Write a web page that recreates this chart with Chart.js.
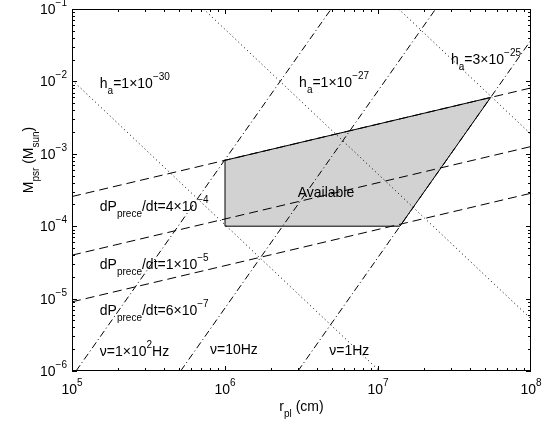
<!DOCTYPE html>
<html>
<head>
<meta charset="utf-8">
<script src="https://cdn.jsdelivr.net/npm/chart.js@4/dist/chart.umd.min.js"></script>
<style>
  html, body { margin: 0; padding: 0; background: #fff; }
  #wrap { width: 554px; height: 423px; }
</style>
</head>
<body>
<div id="wrap"><canvas id="chart" width="554" height="423"></canvas></div>
<script>
// strain amplitude lines h_a (dotted): end points, r in cm, M in Msun
const strainR = [[1e5, 1.023e7], [7.24e5, 1e8], [1.365e7, 1e8]];
const strainM = [[1.047e-2, 1e-6], [1e-1, 5.25e-6], [1e-1, 1.86e-3]];

// GW frequency lines nu (dash-dot)
const freqR = [[1.063e5, 4.94e6], [5.13e5, 2.38e7], [3.0e6, 1e8]];
const freqM = [[1e-6, 1e-1], [1e-6, 1e-1], [1e-6, 3.72e-2]];

// precession rate lines dP_prece/dt (dashed)
const precR = [[1e5, 1e8], [1e5, 1e8], [1e5, 1e8]];
const precM = [[2.57e-4, 8.13e-3], [3.98e-5, 1.26e-3], [9.02e-6, 2.85e-4]];

// "Available" region
const availR = [1e6, 5.445e7, 1.39e7, 1e6, 1e6];
const availM = [8.13e-4, 6.0e-3, 1e-4, 1e-4, 8.13e-4];

// axes
const xTicks = [1e5, 1e6, 1e7, 1e8];
const xTickExp = ['5', '6', '7', '8'];
const yTicks = [1e-1, 1e-2, 1e-3, 1e-4, 1e-5, 1e-6];
const yTickExp = ['\u22121', '\u22122', '\u22123', '\u22124', '\u22125', '\u22126'];

// text in the plot: [r, M, pieces] pieces: [text, 0 normal | 1 sub | 2 sup]
const notes = [
  [1.52e5, 8.2e-3, [['h', 0], ['a', 1], ['=1\u00d710', 0], ['\u221230', 2]]],
  [3.05e6, 8.4e-3, [['h', 0], ['a', 1], ['=1\u00d710', 0], ['\u221227', 2]]],
  [3.0e7, 1.75e-2, [['h', 0], ['a', 1], ['=3\u00d710', 0], ['\u221225', 2]]],
  [1.52e5, 1.6e-4, [['dP', 0], ['prece', 1], ['/dt=4\u00d710', 0], ['\u22124', 2]]],
  [1.52e5, 2.6e-5, [['dP', 0], ['prece', 1], ['/dt=1\u00d710', 0], ['\u22125', 2]]],
  [1.52e5, 5.9e-6, [['dP', 0], ['prece', 1], ['/dt=6\u00d710', 0], ['\u22127', 2]]],
  [1.52e5, 1.6e-6, [['\u03bd=1\u00d710', 0], ['2', 2], ['Hz', 0]]],
  [7.98e5, 1.7e-6, [['\u03bd=10Hz', 0]]],
  [4.8e6, 1.65e-6, [['\u03bd=1Hz', 0]]]
];

const FONT = 'Liberation Sans, Arial, Helvetica, sans-serif';

function lineSets(rs, ms, dash) {
  return rs.map((r, i) => ({
    data: r.map((x, j) => ({ x: x, y: ms[i][j] })),
    borderColor: '#000',
    borderWidth: 1,
    borderDash: dash,
    pointRadius: 0,
    fill: false,
    order: 0
  }));
}

function richText(ctx, parts, x, y, align) {
  const big = '14px ' + FONT, small = '10px ' + FONT;
  let w = 0;
  parts.forEach(p => { ctx.font = p[1] ? small : big; w += ctx.measureText(p[0]).width; });
  if (align === 'center') x -= w / 2;
  if (align === 'right') x -= w;
  ctx.textAlign = 'left';
  ctx.textBaseline = 'alphabetic';
  parts.forEach(p => {
    ctx.font = p[1] ? small : big;
    const dy = p[1] === 1 ? 6 : (p[1] === 2 ? -8 : 0);
    ctx.fillText(p[0], x, y + dy);
    x += ctx.measureText(p[0]).width;
  });
}

const frame = {
  id: 'frame',
  afterDraw(chart) {
    const ctx = chart.ctx, a = chart.chartArea;
    const xs = chart.scales.x, ys = chart.scales.y;
    ctx.save();
    ctx.fillStyle = '#000';
    ctx.strokeStyle = '#000';
    ctx.lineWidth = 1;

    // inward ticks on all sides
    ctx.beginPath();
    for (let n = 5; n < 8; n++) {
      for (let m = 1; m < 10; m++) {
        const px = Math.round(xs.getPixelForValue(m * Math.pow(10, n))) + 0.5;
        const len = m === 1 ? 5 : 3;
        ctx.moveTo(px, a.bottom); ctx.lineTo(px, a.bottom - len);
        ctx.moveTo(px, a.top); ctx.lineTo(px, a.top + len);
      }
    }
    for (let n = -6; n < -1; n++) {
      for (let m = 1; m < 10; m++) {
        const py = Math.round(ys.getPixelForValue(m * Math.pow(10, n))) + 0.5;
        const len = m === 1 ? 5 : 3;
        ctx.moveTo(a.left, py); ctx.lineTo(a.left + len, py);
        ctx.moveTo(a.right, py); ctx.lineTo(a.right - len, py);
      }
    }
    ctx.stroke();

    // box
    ctx.strokeRect(a.left + 0.5, a.top + 0.5, a.right - a.left - 1, a.bottom - a.top - 1);

    // tick labels
    xTicks.forEach((v, i) => {
      richText(ctx, [['10', 0], [xTickExp[i], 2]], xs.getPixelForValue(v), a.bottom + 23, 'center');
    });
    yTicks.forEach((v, i) => {
      richText(ctx, [['10', 0], [yTickExp[i], 2]], a.left - 5, ys.getPixelForValue(v) + 5, 'right');
    });

    // axis titles
    richText(ctx, [['r', 0], ['pl', 1], [' (cm)', 0]], (a.left + a.right) / 2, a.bottom + 40, 'center');
    ctx.save();
    ctx.translate(33, 160);
    ctx.rotate(-Math.PI / 2);
    richText(ctx, [['M', 0], ['psr', 1], [' (M', 0], ['sun', 1], [')', 0]], 0, 0, 'center');
    ctx.restore();

    // notes
    notes.forEach(n => {
      richText(ctx, n[2], xs.getPixelForValue(n[0]), ys.getPixelForValue(n[1]), 'left');
    });
    richText(ctx, [['Available', 0]], xs.getPixelForValue(4.57e6), ys.getPixelForValue(2.53e-4), 'center');
    ctx.restore();
  }
};

const datasets = [].concat(
  lineSets(strainR, strainM, [1, 3]),
  lineSets(freqR, freqM, [7, 3, 1, 3]),
  lineSets(precR, precM, [9, 5]),
  [{
    data: availR.map((x, j) => ({ x: x, y: availM[j] })),
    borderColor: '#000',
    borderWidth: 1,
    backgroundColor: 'rgb(210,210,210)',
    pointRadius: 0,
    fill: 'shape',
    order: 1
  }]
);

new Chart(document.getElementById('chart'), {
  type: 'line',
  data: { datasets: datasets },
  options: {
    responsive: false,
    animation: false,
    devicePixelRatio: 1,
    layout: { padding: { left: 72, top: 9, right: 23, bottom: 52 } },
    plugins: { legend: { display: false }, tooltip: { enabled: false } },
    elements: { line: { tension: 0 } },
    scales: {
      x: { type: 'logarithmic', min: 1e5, max: 1e8, display: false },
      y: { type: 'logarithmic', min: 1e-6, max: 1e-1, display: false }
    }
  },
  plugins: [frame]
});
</script>
</body>
</html>
